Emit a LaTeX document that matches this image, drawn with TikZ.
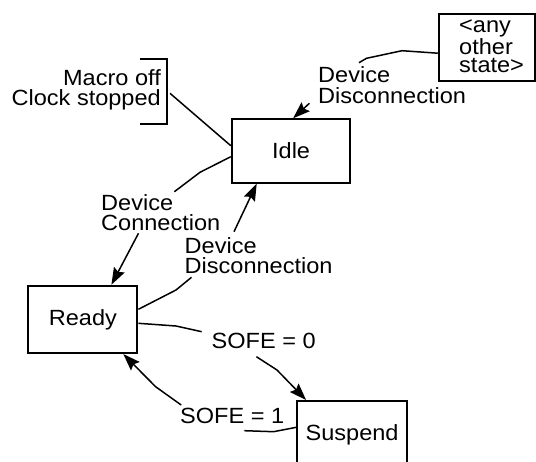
\documentclass[tikz,border=0pt]{standalone}
\usepackage{fontspec}
\setmainfont{Liberation Sans}[FakeStretch=1.07]
\usepackage{tikz}
\usetikzlibrary{positioning, arrows.meta}

\begin{document}
\begin{tikzpicture}[x=1pt, y=-1pt,
    every node/.style={font=\fontsize{22}{20.7}\selectfont, inner sep=0pt},
    statebox/.style={draw, line width=2pt},
    conn/.style={line width=1.5pt},
    arr/.style={line width=1.5pt, -{Stealth[length=17pt, width=12pt, inset=2.5pt]}}]

                    \useasboundingbox (0,0) rectangle (536,461);

                    % States
                    \node[statebox, minimum width=118.6pt, minimum height=63.4pt] (idle) at (291.1,151) {Idle};
                    \node[statebox, minimum width=109pt, minimum height=67.3pt] (ready) at (82.9,319.4) {Ready};
                    \node[statebox, minimum width=109.4pt, minimum height=67pt] (suspend) at (352.1,434.5) {Suspend};
                    \node[statebox, minimum width=96.3pt, minimum height=66.7pt] (anyst) at (486.9,47.4) {};
                    \node[align=left, anchor=west, font=\fontsize{22}{18.5}\selectfont] (anysttxt) at (459,46.5) {<any\\other\\state>};

                    % Note on the idle state
                    \node[align=right, anchor=north east] (idlenote) at (161,69) {Macro off\\Clock stopped};
                    \coordinate (brtop) at (139.5,58.7);
                    \coordinate (brbot) at (139.5,124.3);
                    \draw[line width=1.8pt] (brtop) -- (167,58.7) -- (167,124.3) -- (brbot);
                    \coordinate (brout) at (170,93.3);
                    \draw[conn] (brout) -- ([yshift=5.3pt]idle.west);

                    % Transition labels
                    \node[align=left, anchor=north west] (discA) at (318,66.5) {Device\\Disconnection};
                    \node[align=left, anchor=north west] (conn) at (101,194) {Device\\Connection};
                    \node[align=left, anchor=north west] (discB) at (184.5,237) {Device\\Disconnection};
                    \node[anchor=north west] (sofe0) at (211.5,333) {SOFE = 0};
                    \node[anchor=north west] (sofe1) at (180,407.5) {SOFE = 1};

                    % Label ends of the connectors
                    \coordinate (discAin) at (359,62.7);
                    \coordinate (discAout) at (309.4,103.3);
                    \coordinate (connin) at (174.4,191.7);
                    \coordinate (connout) at (138.5,233.3);
                    \coordinate (discBin) at (191.5,277.3);
                    \coordinate (discBout) at (234,231.7);
                    \coordinate (sofe0in) at (201.7,331.7);
                    \coordinate (sofe0out) at (256.4,356.7);
                    \coordinate (sofe1in) at (244.4,430.7);
                    \coordinate (sofe1out) at (181.2,405);

                    % Transitions
                    \draw[conn] ([yshift=-5.8pt]anyst.west) -- (402,50.7) -- (366.5,58.3) -- (discAin);
                    \draw[arr] (discAout) -- ([xshift=2pt]idle.north);

                    \draw[conn] ([yshift=-5.7pt]idle.west) -- (200,172.3) -- (connin);
                    \draw[arr] (connout) -- ([xshift=28.5pt]ready.north);

                    \draw[conn] ([yshift=10.1pt]ready.east) -- (176,290) -- (discBin);
                    \draw[arr] (discBout) -- ([xshift=-34.4pt]idle.south);

                    \draw[conn] ([yshift=-3.9pt]ready.east) -- (176,326) -- (sofe0in);
                    \draw[arr] (sofe0out) -- (277,370) -- ([xshift=-46pt]suspend.north);

                    \draw[conn] ([yshift=7.2pt]suspend.west) -- (273.5,431.7) -- (sofe1in);
                    \draw[arr] (sofe1out) -- (155.6,386.7) -- ([xshift=40.4pt]ready.south);

                \end{tikzpicture}
\end{document}
